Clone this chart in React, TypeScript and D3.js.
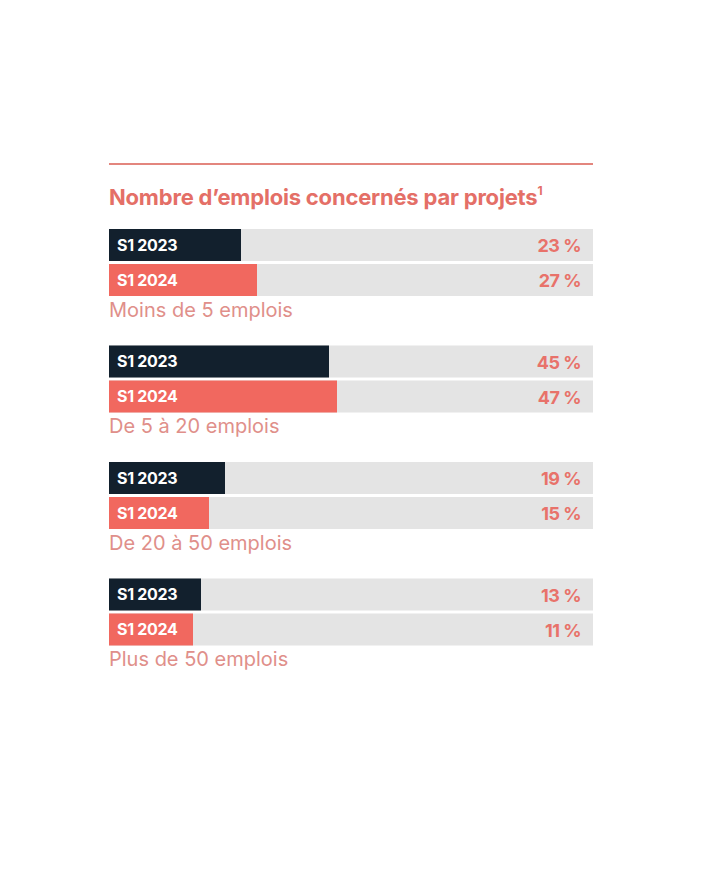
import React from "react";
import * as d3 from "d3";

const title = "Nombre d\u2019emplois concernés par projets";
const categories = ["Moins de 5 emplois", "De 5 à 20 emplois", "De 20 à 50 emplois", "Plus de 50 emplois"];
const series = ["S1 2023", "S1 2024"];
const values2023 = [23, 45, 19, 13];
const values2024 = [27, 47, 15, 11];

const W = 707;
const H = 879;
const X0 = 109;
const X1 = 593;
const FONT = "Inter, 'Liberation Sans', Arial, sans-serif";

const colors = { dark: "#12202d", salmon: "#f1685f", track: "#e4e4e4", title: "#e46f67", pct: "#e8726a", cat: "#e08f8a", rule: "#e3867e" };

export default function App() {
  const x = d3.scaleLinear().domain([0, 100]).range([X0 + 40, X0 + 40 + 400]);
  const y = d3.scaleLinear().domain([0, 1]).range([229, 345.5]);
  const barH = 32;
  const rowStep = 35;
  const seriesVals = [values2023, values2024];
  const seriesColor = [colors.dark, colors.salmon];
  return (
    <svg width={W} height={H} style={{ position: "absolute", left: 0, top: 0, background: "#fff" }}>
      <line x1={X0} x2={X1} y1={164} y2={164} stroke={colors.rule} strokeWidth={2} />
      <text x={X0} y={205} fill={colors.title} fontFamily={FONT} fontWeight={700} fontSize={22} letterSpacing={-0.2}>
        {title}
        <tspan fontSize={12} dy={-10}>1</tspan>
      </text>
      {categories.map((cat, i) => {
        const top = y(i);
        return (
          <g key={cat}>
            {series.map((s, j) => {
              const v = seriesVals[j][i];
              const yy = top + j * rowStep;
              return (
                <g key={s}>
                  <rect x={X0} y={yy} width={X1 - X0} height={barH} fill={colors.track} />
                  <rect x={X0} y={yy} width={x(v) - X0} height={barH} fill={seriesColor[j]} />
                  <text x={117} y={yy + 21.5} fill="#fff" fontFamily={FONT} fontWeight={700} fontSize={16} letterSpacing={-0.3}>{s}</text>
                  <text x={581} y={yy + 23} textAnchor="end" fill={colors.pct} fontFamily={FONT} fontWeight={700} fontSize={18} letterSpacing={-0.5}>{`${v}\u00a0%`}</text>
                </g>
              );
            })}
            <text x={X0} y={top + 87.5} fill={colors.cat} fontFamily={FONT} fontWeight={400} fontSize={20}>{cat}</text>
          </g>
        );
      })}
    </svg>
  );
}
